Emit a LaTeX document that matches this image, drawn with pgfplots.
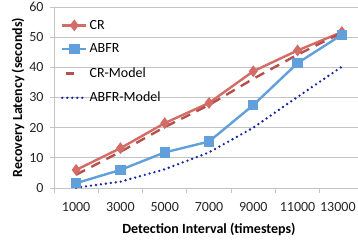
\documentclass[border=0pt]{standalone}
\usepackage{pgfplots}
\pgfplotsset{compat=1.18}
\usepackage{fontspec}
\setmainfont{Carlito}
\definecolor{crred}{HTML}{D36B66}
\definecolor{abfrblue}{HTML}{62A0DC}
\definecolor{crmodel}{HTML}{B5504C}
\definecolor{abfrmodel}{HTML}{1426A0}
\definecolor{gridgray}{HTML}{C4C4C4}
\begin{document}
\begin{tikzpicture}
\begin{axis}[
  scale only axis,
  width=310pt, height=181pt,
  xmin=-0.5, xmax=6.5, ymin=0, ymax=60,
  axis x line*=bottom, axis y line*=left,
  axis line style={gridgray, line width=0.8pt},
  xtick={0,...,6},
  xticklabels={1000,3000,5000,7000,9000,11000,{\hspace*{-8pt}13000}},
  major x tick style={draw=none},
  minor xtick={-0.5,0.5,...,6.5},
  minor x tick style={gridgray, line width=0.8pt},
  minor tick length=5pt,
  ytick={0,10,...,60},
  ymajorgrids,
  major grid style={gridgray, line width=0.8pt},
  major y tick style={gridgray, line width=0.8pt},
  major tick length=4pt,
  tick align=outside,
  /pgf/number format/assume math mode=true,
  ticklabel style={font=\fontsize{14}{16}\selectfont, text=black!85},
  xticklabel style={yshift=-7pt},
  yticklabel style={xshift=-3pt},
  xlabel={\textbf{Detection Interval (timesteps)}},
  ylabel={\textbf{Recovery Latency (seconds)}},
  label style={font=\fontsize{14}{16}\selectfont},
  xlabel style={yshift=-5pt},
  ylabel style={yshift=-2pt},
  legend style={at={(0.022,0.94)}, anchor=north west, draw=none, fill=none,
    font=\fontsize{14}{16}\selectfont, row sep=9.3pt, inner sep=0pt,
    /tikz/every even column/.append style={column sep=1pt}},
  legend cell align=left,
  legend image code/.code={\draw[#1] (0pt,0pt) -- (24pt,0pt); \path[#1,solid] plot coordinates {(12pt,0pt)};},
]
\addplot[crred, line width=2.4pt, mark=diamond*, mark size=4pt, mark options={solid}]
  coordinates {(0,6.0) (1,13.2) (2,21.5) (3,28.2) (4,38.7) (5,45.6) (6,51.7)};
\addlegendentry{CR}
\addplot[abfrblue, line width=2.4pt, mark=square*, mark size=4pt, mark options={solid}]
  coordinates {(0,1.6) (1,6.0) (2,11.8) (3,15.4) (4,27.5) (5,41.4) (6,50.8)};
\addlegendentry{ABFR}
\addplot[crmodel, line width=2.4pt, dash pattern=on 10pt off 7pt, mark=none,
  legend image code/.code={\draw[crmodel, line width=2.4pt] (4pt,0pt) -- (12pt,0pt);}]
  coordinates {(0,4.4) (1,12.0) (2,20.2) (3,27.5) (4,36.2) (5,44.2) (6,51.5)};
\addlegendentry{CR-Model}
\addplot[abfrmodel, line width=2.6pt, dash pattern=on 0pt off 5pt, line cap=round, mark=none]
  coordinates {(0,0.1) (1,2.1) (2,6.2) (3,11.8) (4,20.0) (5,30.2) (6,40.2)};
\addlegendentry{ABFR-Model}
\coordinate (o) at (rel axis cs:0,0);
\end{axis}
\pgfresetboundingbox
\path[use as bounding box] (o) ++(-54pt,-53pt) rectangle ++(358pt,241pt);
\end{tikzpicture}
\end{document}
